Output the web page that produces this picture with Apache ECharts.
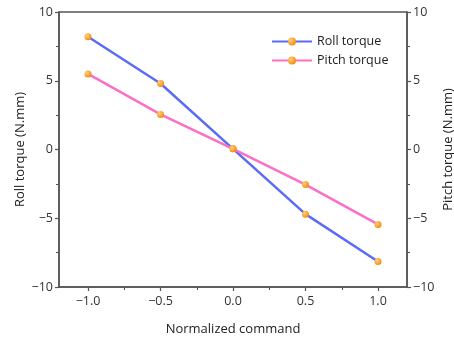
<!DOCTYPE html>
<html>
<head>
<meta charset="utf-8">
<script src="https://cdn.jsdelivr.net/npm/echarts@6/dist/echarts.min.js"></script>
<style>
  html, body { margin: 0; padding: 0; background: #fff; }
  #chart { width: 454px; height: 341px; }
</style>
</head>
<body>
<div id="chart"></div>
<script>
const commands = [-1.0, -0.5, 0.0, 0.5, 1.0];
const rollTorque = [8.2, 4.8, 0.05, -4.7, -8.15];
const pitchTorque = [5.5, 2.55, 0.05, -2.55, -5.45];
const xMajorTicks = [-1.0, -0.5, 0.0, 0.5, 1.0];
const xMinorTicks = [-0.75, -0.25, 0.25, 0.75];

const axisGray = '#555';
const font = 'Open Sans';

const marker = new echarts.graphic.RadialGradient(0.35, 0.35, 0.7, [
  { offset: 0, color: '#ffd088' },
  { offset: 1, color: '#f58a00' }
]);

const chart = echarts.init(document.getElementById('chart'));

const yCommon = {
  type: 'value', min: -10, max: 10, interval: 5,
  nameLocation: 'middle', nameRotate: 90, nameMoveOverlap: false,
  nameTextStyle: { fontFamily: font, fontSize: 13, color: '#222' },
  axisLine: { show: true, onZero: false, lineStyle: { color: axisGray, width: 1.5 } },
  axisTick: { show: true, length: 4, lineStyle: { color: axisGray, width: 1.2 } },
  minorTick: { show: true, splitNumber: 2, length: 3, lineStyle: { color: axisGray, width: 1 } },
  splitLine: { show: false },
  axisLabel: { fontFamily: font, fontSize: 12.5, color: '#333', margin: 6,
    formatter: v => (v < 0 ? '\u2212' + Math.abs(v) : String(v)) }
};

chart.setOption({
  animation: false,
  grid: { left: 59, right: 47, top: 12, bottom: 54, show: true,
    outerBoundsMode: 'none', containLabel: false,
    borderColor: axisGray, borderWidth: 1.5 },
  legend: {
    orient: 'vertical', left: 266, top: 30, itemWidth: 40, itemHeight: 10, itemGap: 6,
    textStyle: { fontFamily: font, fontSize: 12.5, color: '#222' },
    data: ['Roll torque', 'Pitch torque']
  },
  xAxis: [
    {
      type: 'value', min: -1.2, max: 1.2,
      name: 'Normalized command', nameLocation: 'middle', nameGap: 36, nameMoveOverlap: false,
      nameTextStyle: { fontFamily: font, fontSize: 13, color: '#222' },
      axisLine: { show: true, onZero: false, lineStyle: { color: axisGray, width: 1.5 } },
      axisTick: { show: true, length: 4, customValues: xMajorTicks,
        lineStyle: { color: axisGray, width: 1.2 } },
      splitLine: { show: false },
      axisLabel: { fontFamily: font, fontSize: 12.5, color: '#333', margin: 8,
        customValues: xMajorTicks,
        formatter: v => (v < 0 ? '\u2212' + Math.abs(v).toFixed(1) : v.toFixed(1)) }
    },
    {
      type: 'value', min: -1.2, max: 1.2, position: 'bottom',
      axisLine: { show: false, onZero: false },
      axisTick: { show: true, length: 3, customValues: xMinorTicks,
        lineStyle: { color: axisGray, width: 1 } },
      axisLabel: { show: false },
      splitLine: { show: false }
    }
  ],
  yAxis: [
    Object.assign({}, yCommon, { name: 'Roll torque (N.mm)', position: 'left', nameGap: 32 }),
    Object.assign({}, yCommon, { name: 'Pitch torque (N.mm)', position: 'right', nameGap: 35 })
  ],
  series: [
    {
      name: 'Roll torque', type: 'line', xAxisIndex: 0, yAxisIndex: 0,
      data: commands.map((c, i) => [c, rollTorque[i]]),
      symbol: 'circle', symbolSize: 7,
      lineStyle: { color: '#5a6cf6', width: 2.5 },
      itemStyle: { color: marker }
    },
    {
      name: 'Pitch torque', type: 'line', xAxisIndex: 0, yAxisIndex: 1,
      data: commands.map((c, i) => [c, pitchTorque[i]]),
      symbol: 'circle', symbolSize: 7,
      lineStyle: { color: '#fb6fc6', width: 2.5 },
      itemStyle: { color: marker }
    }
  ]
});
</script>
</body>
</html>
